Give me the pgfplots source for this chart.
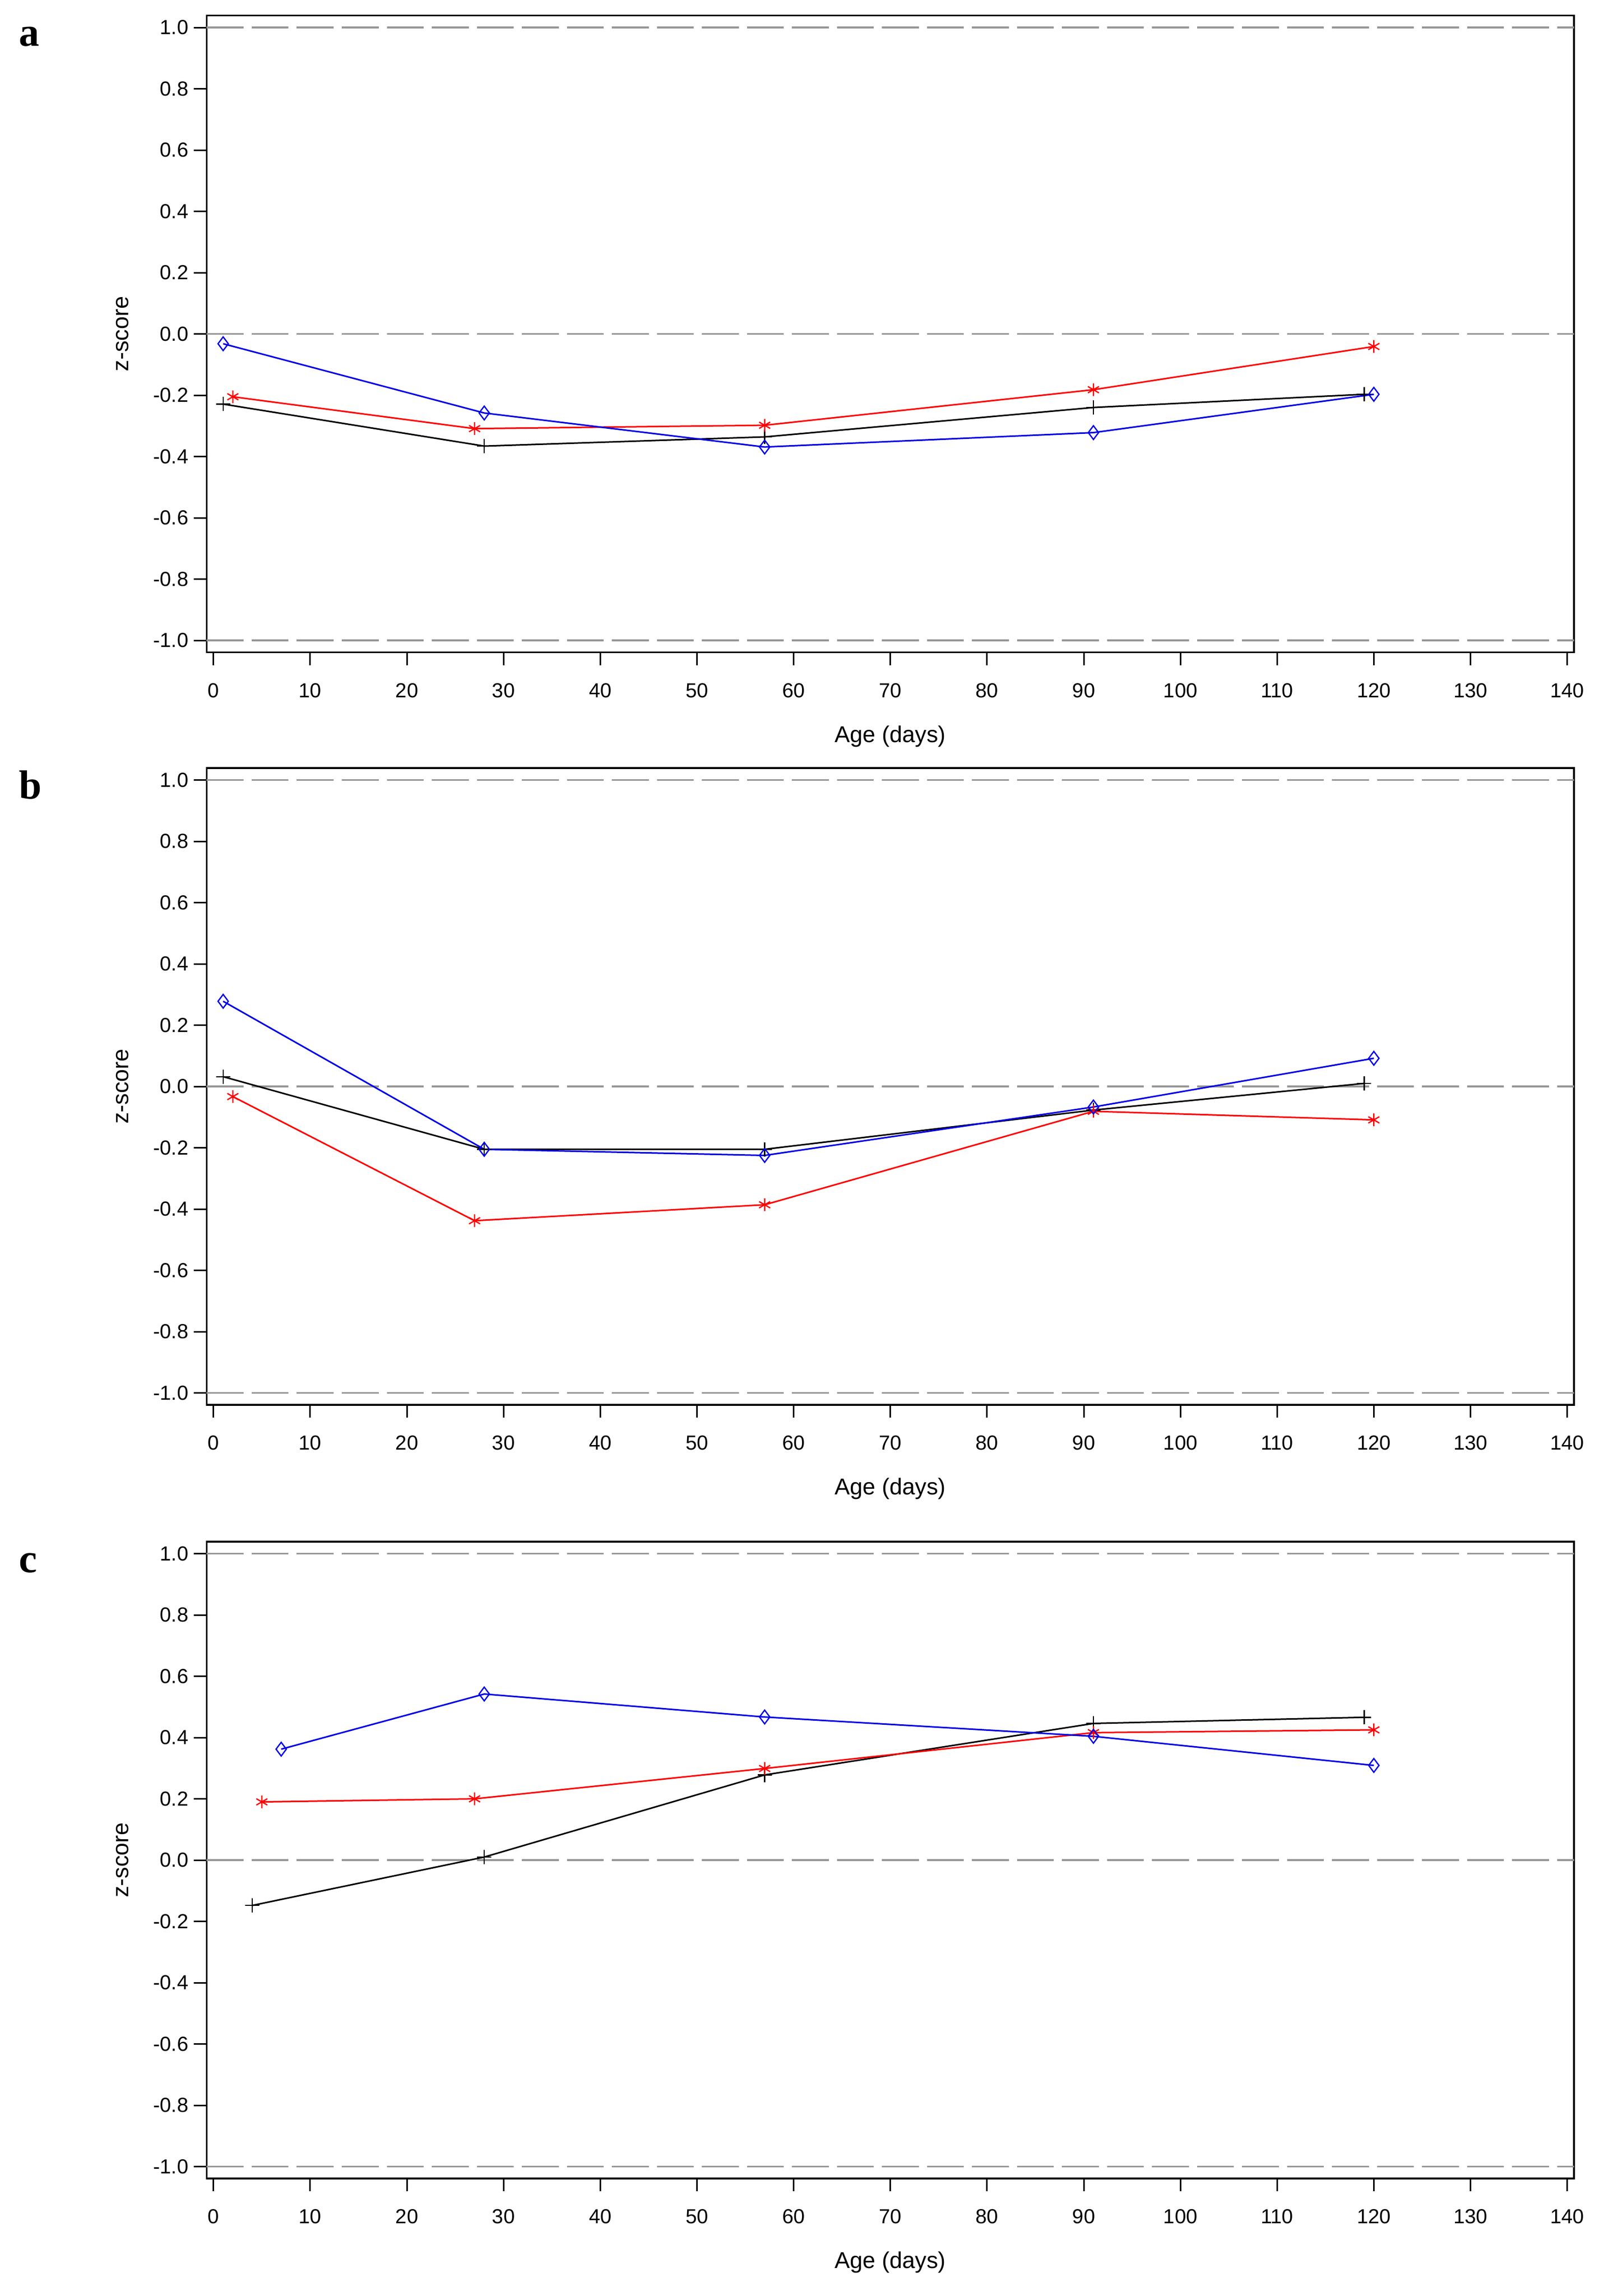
\documentclass[border=0pt]{standalone}
\usepackage{pgfplots}
\pgfplotsset{compat=1.18}
\usepackage{fontspec}
\setmainfont{Liberation Sans}
\newfontfamily\letterfont{Liberation Serif}
\definecolor{refgray}{RGB}{150,150,150}
\definecolor{sblue}{RGB}{0,0,230}
\definecolor{sred}{RGB}{255,0,0}
\pgfplotsset{
  panel/.style={
    scale only axis, width=537.7pt, height=250.4pt,
    xmin=-0.7, xmax=140.7, ymin=-1.039, ymax=1.039,
    axis line style={line width=0.7pt},
    xtick={0,10,20,30,40,50,60,70,80,90,100,110,120,130,140},
    xticklabels={0,10,20,30,40,50,60,70,80,90,100,110,120,130,140},
    ytick={-1,-0.8,-0.6,-0.4,-0.2,0,0.2,0.4,0.6,0.8,1},
    yticklabels={-1.0,-0.8,-0.6,-0.4,-0.2,0.0,0.2,0.4,0.6,0.8,1.0},
    tick pos=left, tick align=outside,
    major tick length=5pt,
    xtick style={line width=0.6pt, black},
    ytick style={line width=0.6pt, black},
    ticklabel style={font=\fontsize{8}{9}\selectfont},
    xticklabel shift=3.6pt,
    yticklabel style={xshift=1.3pt},
    xlabel={Age (days)}, ylabel={z-score},
    xlabel style={font=\fontsize{9}{10}\selectfont, at={([yshift=-33pt]axis description cs:0.5,0)}, anchor=center},
    ylabel style={font=\fontsize{9}{10}\selectfont, at={([xshift=-33.2pt]axis description cs:0,0.5)}, anchor=center, rotate=0},
    clip=false,
  },
  refl/.style={refgray, line width=0.75pt, dash pattern=on 14.5pt off 3.2pt, forget plot},
  sblk/.style={black, line width=0.6pt, mark=+, mark size=2.8pt, mark options={solid, line width=0.5pt}},
  sr/.style={sred, line width=0.6pt, mark=asterisk, mark size=2.5pt, mark options={solid, line width=0.5pt}},
  sb/.style={sblue, line width=0.6pt, mark=diamond, mark size=2.7pt, mark options={solid, line width=0.5pt, fill=none}},
}
\newcommand{\reflines}{%
  \addplot[refl] coordinates {(-0.7,1) (140.7,1)};
  \addplot[refl] coordinates {(-0.7,0) (140.7,0)};
  \addplot[refl] coordinates {(-0.7,-1) (140.7,-1)};
}
\newcommand{\plabel}[1]{\node[anchor=base west, inner sep=0pt, font=\letterfont\bfseries\fontsize{16}{16}\selectfont] at ([xshift=-74pt, yshift=-12pt]axis description cs:0,1) {#1};}
\begin{document}
\begin{tikzpicture}
\path[use as bounding box] (-81.3pt,6.1pt) rectangle (549.5pt,-896.7pt);
% panel a
\begin{axis}[panel, at={(0pt,0pt)}, anchor=north west]
\reflines
\addplot[sblk] coordinates {(1,-0.229) (28,-0.366) (57,-0.336) (91,-0.240) (119,-0.197)};
\addplot[sr] coordinates {(2,-0.205) (27,-0.309) (57,-0.298) (91,-0.182) (120,-0.041)};
\addplot[sb] coordinates {(1,-0.032) (28,-0.258) (57,-0.369) (91,-0.322) (120,-0.197)};
\plabel{a}
\end{axis}
% panel b
\begin{axis}[panel, at={(0pt,-295.9pt)}, anchor=north west]
\reflines
\addplot[sblk] coordinates {(1,0.032) (28,-0.205) (57,-0.205) (91,-0.077) (119,0.010)};
\addplot[sr] coordinates {(2,-0.033) (27,-0.438) (57,-0.386) (91,-0.081) (120,-0.109)};
\addplot[sb] coordinates {(1,0.278) (28,-0.205) (57,-0.225) (91,-0.067) (120,0.092)};
\plabel{b}
\end{axis}
% panel c
\begin{axis}[panel, at={(0pt,-600.1pt)}, anchor=north west]
\reflines
\addplot[sblk] coordinates {(4,-0.148) (28,0.010) (57,0.278) (91,0.446) (119,0.466)};
\addplot[sr] coordinates {(5,0.190) (27,0.200) (57,0.299) (91,0.416) (120,0.425)};
\addplot[sb] coordinates {(7,0.362) (28,0.542) (57,0.467) (91,0.404) (120,0.309)};
\plabel{c}
\end{axis}
\end{tikzpicture}
\end{document}
